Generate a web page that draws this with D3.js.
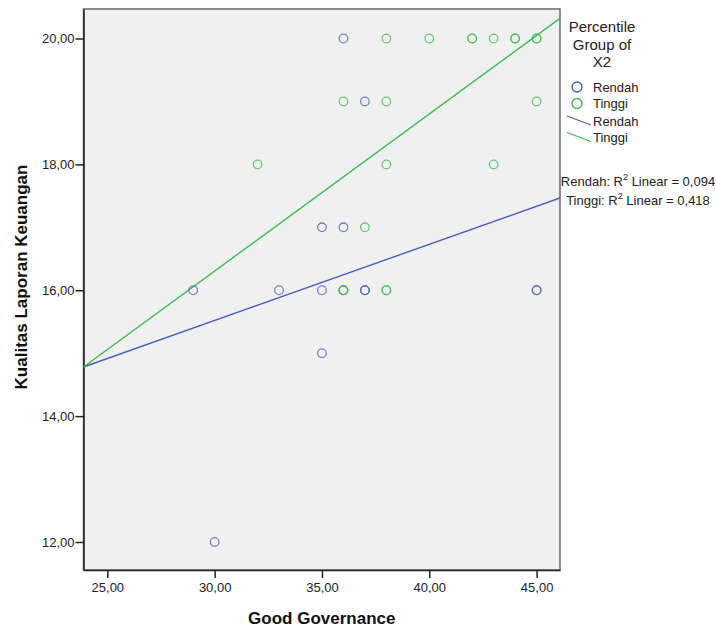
<!DOCTYPE html>
<html><head><meta charset="utf-8">
<script src="https://cdn.jsdelivr.net/npm/d3@7"></script>
<style>
html,body{margin:0;padding:0;background:#fff;}
svg{display:block;font-family:"Liberation Sans",Arial,sans-serif;}
</style></head>
<body>
<svg id="chart" width="716" height="627"></svg>
<script>
// ---- data ----
const groups = ["Rendah", "Tinggi"];
const groupColors = ["#4a5fb8", "#3cbb4e"];
const rendahX = [36, 37, 35, 36, 29, 33, 35, 36, 37, 37, 45, 45, 35, 30];
const rendahY = [20, 19, 17, 17, 16, 16, 16, 16, 16, 16, 16, 16, 15, 12];
const tinggiX = [38, 40, 42, 42, 43, 44, 44, 45, 45, 36, 38, 45, 32, 38, 43, 37, 36, 36, 38, 38];
const tinggiY = [20, 20, 20, 20, 20, 20, 20, 20, 20, 19, 19, 19, 18, 18, 18, 17, 16, 16, 16, 16];
const fitIntercept = [11.89, 8.82];
const fitSlope = [0.121, 0.2495];
const r2Labels = ["Rendah: R", "Tinggi: R"];
const r2Values = ["0,094", "0,418"];
const xTicks = [25, 30, 35, 40, 45];
const yTicks = [12, 14, 16, 18, 20];
const xDomain = [23.89, 46.09];
const yDomain = [11.555, 20.469];
const xTitle = "Good Governance";
const yTitle = "Kualitas Laporan Keuangan";
const legendTitle = ["Percentile", "Group of", "X2"];

// ---- layout ----
const L = 83.5, R = 560, T = 9, B = 570;
const svg = d3.select("#chart");
const x = d3.scaleLinear().domain(xDomain).range([L, R]);
const y = d3.scaleLinear().domain(yDomain).range([B, T]);
const fmt = d => d.toFixed(2).replace(".", ",");

svg.append("rect").attr("x", L).attr("y", T).attr("width", R - L).attr("height", B - T)
  .attr("fill", "#f0f0f0").attr("stroke", "#6a6a6a").attr("stroke-width", 1.5);

svg.append("defs").append("clipPath").attr("id", "clip")
  .append("rect").attr("x", L).attr("y", T).attr("width", R - L).attr("height", B - T);

// axes
const gx = svg.append("g").attr("transform", `translate(0,${B})`)
  .call(d3.axisBottom(x).tickValues(xTicks).tickFormat(fmt).tickSizeInner(8).tickSizeOuter(0).tickPadding(5));
const gy = svg.append("g").attr("transform", `translate(${L},0)`)
  .call(d3.axisLeft(y).tickValues(yTicks).tickFormat(fmt).tickSizeInner(8).tickSizeOuter(0).tickPadding(1));
[gx, gy].forEach(g => {
  g.select(".domain").attr("stroke", "#222").attr("stroke-width", 1.5);
  g.selectAll(".tick line").attr("stroke", "#222").attr("stroke-width", 1.5);
  g.selectAll(".tick text").attr("fill", "#222").style("font-size", "13px")
    .style("font-family", "'Liberation Sans',Arial,sans-serif");
});

// fit lines
const plot = svg.append("g").attr("clip-path", "url(#clip)");
groups.forEach((g, i) => {
  const x0 = xDomain[0], x1 = xDomain[1];
  plot.append("line")
    .attr("x1", x(x0)).attr("y1", y(fitIntercept[i] + fitSlope[i] * x0))
    .attr("x2", x(x1)).attr("y2", y(fitIntercept[i] + fitSlope[i] * x1))
    .attr("stroke", groupColors[i]).attr("stroke-width", 1.4);
});

// points
const series = [
  rendahX.map((v, j) => ({x: v, y: rendahY[j]})),
  tinggiX.map((v, j) => ({x: v, y: tinggiY[j]}))
];
series.forEach((pts, i) => {
  plot.append("g").selectAll("circle").data(pts).join("circle")
    .attr("cx", d => x(d.x)).attr("cy", d => y(d.y)).attr("r", 4.3)
    .attr("fill", "none").attr("stroke", groupColors[i])
    .attr("stroke-width", 1.3).attr("stroke-opacity", 0.75);
});

// axis titles
svg.append("text").attr("x", (L + R) / 2).attr("y", 624)
  .attr("text-anchor", "middle").attr("font-weight", "bold").attr("font-size", 17)
  .attr("fill", "#111").text(xTitle);
svg.append("text").attr("transform", "translate(27,277) rotate(-90)")
  .attr("text-anchor", "middle").attr("font-weight", "bold").attr("font-size", 17)
  .attr("fill", "#111").text(yTitle);

// legend
const lg = svg.append("g");
legendTitle.forEach((t, i) => {
  lg.append("text").attr("x", 602).attr("y", 32 + i * 17.5).attr("text-anchor", "middle")
    .attr("font-size", 15).attr("fill", "#222").text(t);
});
groups.forEach((g, i) => {
  const cy = 87 + i * 16.5;
  lg.append("circle").attr("cx", 577).attr("cy", cy).attr("r", 5)
    .attr("fill", "none").attr("stroke", groupColors[i]).attr("stroke-width", 1.4);
  lg.append("text").attr("x", 593).attr("y", cy + 4.5).attr("font-size", 13)
    .attr("fill", "#222").text(g);
});
groups.forEach((g, i) => {
  const cy = 121 + i * 16.5;
  lg.append("line").attr("x1", 567).attr("y1", cy - 5).attr("x2", 591).attr("y2", cy + 4)
    .attr("stroke", groupColors[i]).attr("stroke-width", 1.3);
  lg.append("text").attr("x", 593).attr("y", cy + 4.5).attr("font-size", 13)
    .attr("fill", "#222").text(g);
});
groups.forEach((g, i) => {
  const t = lg.append("text").attr("x", 638).attr("y", 186 + i * 18.5)
    .attr("text-anchor", "middle").attr("font-size", 13).attr("fill", "#222");
  t.append("tspan").text(r2Labels[i]);
  t.append("tspan").attr("dy", -6).attr("font-size", 9).text("2");
  t.append("tspan").attr("dy", 6).text(" Linear = " + r2Values[i]);
});
</script>
</body></html>
